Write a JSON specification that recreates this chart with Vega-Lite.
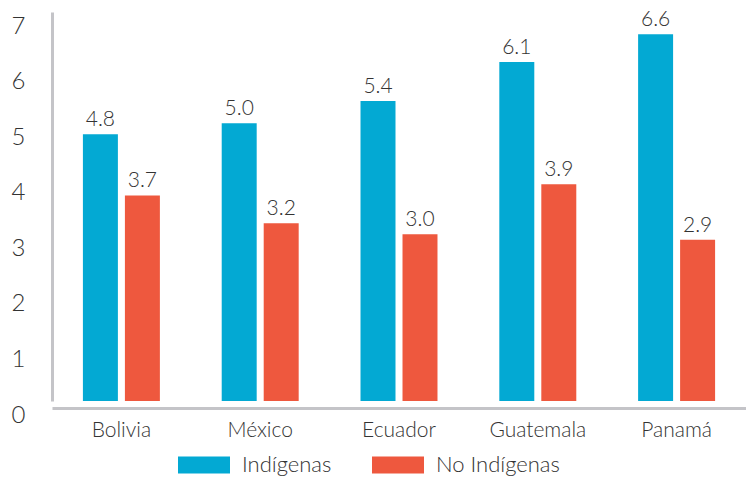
{
  "$schema": "https://vega.github.io/schema/vega-lite/v6.json",
  "width": 694,
  "height": 389,
  "autosize": {"type": "none"},
  "padding": {"left": 52, "top": 12, "right": 0, "bottom": 84},
  "background": "white",
  "config": {
    "view": {"stroke": null},
    "font": "Lato",
    "text": {"font": "Lato"}
  },
  "data": {
    "values": [
      {"pais": "Bolivia", "grupo": "Indígenas", "valor": 4.8},
      {"pais": "Bolivia", "grupo": "No Indígenas", "valor": 3.7},
      {"pais": "México", "grupo": "Indígenas", "valor": 5.0},
      {"pais": "México", "grupo": "No Indígenas", "valor": 3.2},
      {"pais": "Ecuador", "grupo": "Indígenas", "valor": 5.4},
      {"pais": "Ecuador", "grupo": "No Indígenas", "valor": 3.0},
      {"pais": "Guatemala", "grupo": "Indígenas", "valor": 6.1},
      {"pais": "Guatemala", "grupo": "No Indígenas", "valor": 3.9},
      {"pais": "Panamá", "grupo": "Indígenas", "valor": 6.6},
      {"pais": "Panamá", "grupo": "No Indígenas", "valor": 2.9}
    ]
  },
  "encoding": {
    "x": {
      "field": "pais",
      "type": "nominal",
      "sort": ["Bolivia", "México", "Ecuador", "Guatemala", "Panamá"],
      "scale": {"paddingInner": 0, "paddingOuter": 0},
      "axis": {
        "title": null,
        "labelAngle": 0,
        "domainColor": "#c4c4c8",
        "domainWidth": 3,
        "ticks": false,
        "offset": 7,
        "labelFontSize": 21,
        "labelColor": "#333333",
        "labelPadding": 11,
        "labelFont": "Lato",
        "labelFontWeight": 300
      }
    },
    "xOffset": {
      "field": "grupo",
      "type": "nominal",
      "sort": ["Indígenas", "No Indígenas"],
      "scale": {"paddingInner": 0.167, "paddingOuter": 0.736}
    },
    "y": {
      "field": "valor",
      "type": "quantitative",
      "scale": {"domain": [0, 7], "nice": false},
      "axis": {
        "title": null,
        "grid": false,
        "ticks": false,
        "values": [0, 1, 2, 3, 4, 5, 6, 7],
        "domainColor": "#c4c4c8",
        "domainWidth": 3,
        "labelAlign": "left",
        "labelPadding": 41,
        "labelOffset": 14,
        "labelFontSize": 24,
        "labelColor": "#333333",
        "labelFont": "Lato",
        "labelFontWeight": 300
      }
    }
  },
  "layer": [
    {
      "mark": {"type": "bar"},
      "encoding": {
        "color": {
          "field": "grupo",
          "type": "nominal",
          "sort": ["Indígenas", "No Indígenas"],
          "scale": {"domain": ["Indígenas", "No Indígenas"], "range": ["#03A9D3", "#EE583E"]},
          "legend": {
            "title": null,
            "orient": "none",
            "direction": "horizontal",
            "legendX": 126,
            "legendY": 427,
            "symbolType": "M-1,-0.33H1V0.33H-1Z",
            "symbolSize": 2704,
            "symbolStrokeWidth": 0,
            "symbolOpacity": 1,
            "labelFontSize": 22,
            "labelColor": "#333333",
            "labelFont": "Lato",
            "labelFontWeight": 300,
            "labelOffset": 12,
            "columnPadding": 40
          }
        }
      }
    },
    {
      "mark": {"type": "text", "baseline": "bottom", "dy": -4, "fontSize": 21, "fontWeight": 300, "color": "#333333"},
      "encoding": {
        "text": {"field": "valor", "type": "quantitative", "format": ".1f"}
      }
    }
  ]
}
